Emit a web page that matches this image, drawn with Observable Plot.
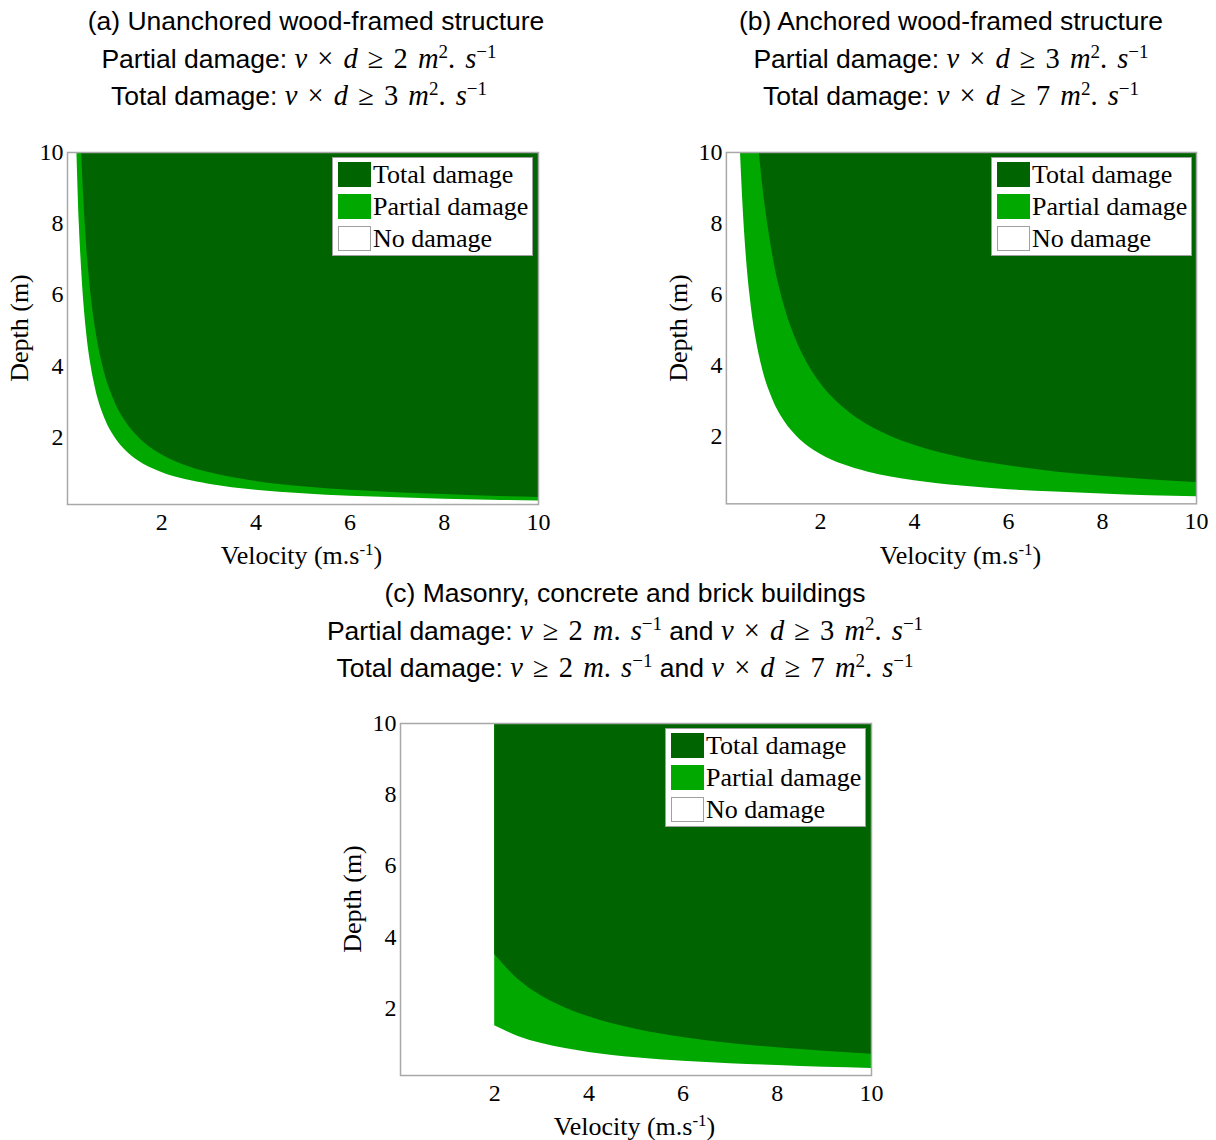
<!DOCTYPE html>
<html>
<head>
<meta charset="utf-8">
<script src="https://cdn.jsdelivr.net/npm/d3@7"></script>
<script src="https://cdn.jsdelivr.net/npm/@observablehq/plot@0.6"></script>
<style>
  html, body { margin: 0; padding: 0; background: #fff; }
  #root { position: relative; width: 1216px; height: 1140px; overflow: hidden; }
  .panel svg text { font-family: "Liberation Serif", "Times New Roman", serif !important; font-size: 24px !important; fill: #000; }
  .title { position: absolute; font-family: "Liberation Sans", Arial, sans-serif; font-size: 26.5px; color: #000; white-space: nowrap; transform: translateX(-50%); line-height: 30px; }
  .m { font-family: "Liberation Serif", "Times New Roman", serif; font-size: 28.5px; word-spacing: 3px; }
  .m sup { font-size: 19px; vertical-align: 0; position: relative; top: -10px; }
  .axlab { position: absolute; font-family: "Liberation Serif", "Times New Roman", serif; font-size: 26px; color: #000; white-space: nowrap; line-height: 28px; }
  .axlab sup { font-size: 17px; position: relative; top: -9px; vertical-align: 0; }
  .legend { position: absolute; background: #fff; border: 1px solid #a0a0a0; box-sizing: border-box; width: 201px; height: 99px; font-family: "Liberation Serif", "Times New Roman", serif; font-size: 26px; }
  .legend .item { position: absolute; left: 5px; height: 26px; line-height: 26px; white-space: nowrap; }
  .legend .sw { position: absolute; left: 0; top: 0; width: 33px; height: 25px; box-sizing: border-box; }
  .legend .lt { position: absolute; left: 35px; top: 0px; }
  .panel { position: absolute; }
</style>
</head>
<body>
<div id="root"></div>
<script>
// ---- data ----
const categories = ["Total damage", "Partial damage", "No damage"];
const colors = ["#006400", "#00a800", "#ffffff"];

// Panel (a): lower boundary of partial damage area
const aPartialV = [0.2, 0.25, 0.3, 0.4, 0.5, 0.6, 0.8, 1, 1.25, 1.5, 2, 2.5, 3, 4, 5, 6, 7, 8, 9, 10];
const aPartialD = [10, 8, 6.7, 5, 4, 3.33, 2.5, 2, 1.6, 1.33, 1, 0.8, 0.67, 0.5, 0.4, 0.33, 0.29, 0.25, 0.22, 0.2];
// Panel (a): lower boundary of total damage area
const aTotalV = [0.3, 0.35, 0.4, 0.5, 0.6, 0.75, 1, 1.25, 1.5, 2, 2.5, 3, 4, 5, 6, 7, 8, 9, 10];
const aTotalD = [10, 8.6, 7.5, 6, 5, 4, 3, 2.4, 2, 1.5, 1.2, 1, 0.75, 0.6, 0.5, 0.43, 0.38, 0.33, 0.3];

// Panel (b)
const bPartialV = [0.3, 0.35, 0.4, 0.5, 0.6, 0.75, 1, 1.25, 1.5, 2, 2.5, 3, 4, 5, 6, 7, 8, 9, 10];
const bPartialD = [10, 8.6, 7.5, 6, 5, 4, 3, 2.4, 2, 1.5, 1.2, 1, 0.75, 0.6, 0.5, 0.43, 0.38, 0.33, 0.3];
const bTotalV = [0.7, 0.8, 0.9, 1, 1.25, 1.5, 1.75, 2, 2.5, 3, 3.5, 4, 5, 6, 7, 8, 9, 10];
const bTotalD = [10, 8.75, 7.8, 7, 5.6, 4.67, 4, 3.5, 2.8, 2.33, 2, 1.75, 1.4, 1.17, 1, 0.88, 0.78, 0.7];

// Panel (c)
const cPartialV = [2, 2.5, 3, 3.5, 4, 5, 6, 7, 8, 9, 10];
const cPartialD = [1.5, 1.2, 1, 0.86, 0.75, 0.6, 0.5, 0.43, 0.38, 0.33, 0.3];
const cTotalV = [2, 2.5, 3, 3.5, 4, 5, 6, 7, 8, 9, 10];
const cTotalD = [3.5, 2.8, 2.33, 2, 1.75, 1.4, 1.17, 1, 0.88, 0.78, 0.7];

const xTicks = [2, 4, 6, 8, 10];
const yTicks = [2, 4, 6, 8, 10];
const xDomain = [0, 10];
const yDomain = [0.1, 10];
const depthTop = 10;

const titles = [
  ["(a) Unanchored wood-framed structure",
   'Partial damage: <span class="m"><i>v</i> × <i>d</i> ≥ 2 <i>m</i><sup>2</sup>. <i>s</i><sup>−1</sup></span>',
   'Total damage: <span class="m"><i>v</i> × <i>d</i> ≥ 3 <i>m</i><sup>2</sup>. <i>s</i><sup>−1</sup></span>'],
  ["(b) Anchored wood-framed structure",
   'Partial damage: <span class="m"><i>v</i> × <i>d</i> ≥ 3 <i>m</i><sup>2</sup>. <i>s</i><sup>−1</sup></span>',
   'Total damage: <span class="m"><i>v</i> × <i>d</i> ≥ 7 <i>m</i><sup>2</sup>. <i>s</i><sup>−1</sup></span>'],
  ["(c) Masonry, concrete and brick buildings",
   'Partial damage: <span class="m"><i>v</i> ≥ 2 <i>m</i>. <i>s</i><sup>−1</sup></span> and <span class="m"><i>v</i> × <i>d</i> ≥ 3 <i>m</i><sup>2</sup>. <i>s</i><sup>−1</sup></span>',
   'Total damage: <span class="m"><i>v</i> ≥ 2 <i>m</i>. <i>s</i><sup>−1</sup></span> and <span class="m"><i>v</i> × <i>d</i> ≥ 7 <i>m</i><sup>2</sup>. <i>s</i><sup>−1</sup></span>']
];

// ---- layout ----
const FW = 471, FH = 352;
const ML = 70, MT = 20, MR = 20, MB = 44;
const panels = [
  {fx: 67, fy: 152, pv: aPartialV, pd: aPartialD, tv: aTotalV, td: aTotalD, tcx: [316, 299, 299], tcy: 6},
  {fx: 726, fy: 152, pv: bPartialV, pd: bPartialD, tv: bTotalV, td: bTotalD, tcx: [951, 951, 951], tcy: 6},
  {fx: 400, fy: 723, pv: cPartialV, pd: cPartialD, tv: cTotalV, td: cTotalD, tcx: [625, 625, 625], tcy: 578}
];
const serif = "Liberation Serif, Times New Roman, serif";

const root = document.getElementById("root");

panels.forEach((p, i) => {
  const partial = p.pv.map((v, k) => ({v, d: p.pd[k]}));
  const total = p.tv.map((v, k) => ({v, d: p.td[k]}));
  const chart = Plot.plot({
    width: ML + FW + MR,
    height: MT + FH + MB,
    marginLeft: ML, marginTop: MT, marginRight: MR, marginBottom: MB,
    style: {fontFamily: serif, fontSize: "24px", color: "#000", background: "transparent", overflow: "visible"},
    x: {domain: xDomain, ticks: xTicks, label: null},
    y: {domain: yDomain, ticks: yTicks, label: null},
    marks: [
      Plot.areaY(partial, {x: "v", y1: "d", y2: () => depthTop, fill: colors[1], curve: "monotone-x", clip: true}),
      Plot.areaY(total, {x: "v", y1: "d", y2: () => depthTop, fill: colors[0], curve: "monotone-x", clip: true}),
      Plot.frame({stroke: "#a8a8a8", strokeWidth: 1.5}),
      Plot.axisX({ticks: xTicks, tickSize: 0, tickPadding: 8, label: null, fontSize: 24, fontFamily: serif, fill: "#000"}),
      Plot.axisY({ticks: yTicks, tickSize: 0, tickPadding: 4, label: null, fontSize: 24, fontFamily: serif, fill: "#000"})
    ]
  });
  const wrap = document.createElement("div");
  wrap.className = "panel";
  wrap.style.left = (p.fx - ML) + "px";
  wrap.style.top = (p.fy - MT) + "px";
  wrap.appendChild(chart);
  root.appendChild(wrap);

  // titles
  titles[i].forEach((t, k) => {
    const el = document.createElement("div");
    el.className = "title";
    el.innerHTML = t;
    el.style.left = p.tcx[k] + "px";
    el.style.top = (p.tcy + k * 37.5) + "px";
    root.appendChild(el);
  });

  // axis labels
  const xl = document.createElement("div");
  xl.className = "axlab";
  xl.innerHTML = "Velocity (m.s<sup>-1</sup>)";
  xl.style.left = (p.fx + FW / 2 - 1) + "px";
  xl.style.top = (p.fy + FH + 38) + "px";
  xl.style.transform = "translateX(-50%)";
  root.appendChild(xl);

  const yl = document.createElement("div");
  yl.className = "axlab";
  yl.textContent = "Depth (m)";
  yl.style.left = (p.fx - 47) + "px";
  yl.style.top = (p.fy + FH / 2) + "px";
  yl.style.transform = "translate(-50%, -50%) rotate(-90deg)";
  root.appendChild(yl);

  // legend
  const lg = document.createElement("div");
  lg.className = "legend";
  lg.style.left = (p.fx + FW - 206) + "px";
  lg.style.top = (p.fy + 5) + "px";
  categories.forEach((c, k) => {
    const it = document.createElement("div");
    it.className = "item";
    it.style.top = (4 + k * 32) + "px";
    const sw = document.createElement("div");
    sw.className = "sw";
    sw.style.background = colors[k];
    if (k === 2) sw.style.border = "1px solid #a0a0a0";
    const lt = document.createElement("div");
    lt.className = "lt";
    lt.textContent = c;
    it.appendChild(sw); it.appendChild(lt);
    lg.appendChild(it);
  });
  root.appendChild(lg);
});
</script>
</body>
</html>
